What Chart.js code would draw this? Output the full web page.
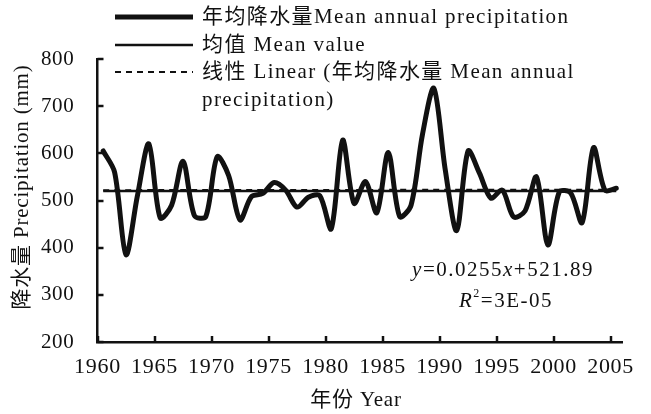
<!DOCTYPE html>
<html>
<head>
<meta charset="utf-8">
<script src="https://cdn.jsdelivr.net/npm/chart.js@4.4.1/dist/chart.umd.min.js"></script>
<style>
html,body{margin:0;padding:0;background:#fff;}
#wrap{width:651px;height:414px;position:relative;}
</style>
</head>
<body>
<div id="wrap"><canvas id="c" width="651" height="414"></canvas></div>
<script>
// ---- data ----
const years = [1960,1961,1962,1963,1964,1965,1966,1967,1968,1969,
               1970,1971,1972,1973,1974,1975,1976,1977,1978,1979,
               1980,1981,1982,1983,1984,1985,1986,1987,1988,1989,
               1990,1991,1992,1993,1994,1995,1996,1997,1998,1999,
               2000,2001,2002,2003,2004,2005];
const precipitation = [605,560,385,510,620,463,490,583,468,466,
                       593,553,459,508,515,538,522,486,507,510,
                       440,628,494,540,474,602,466,490,640,738,
                       565,436,605,558,505,522,465,478,550,406,
                       518,516,453,612,522,526];
const meanValue = 520;
const trendSlope = 0.0255;
const trendIntercept = 521.89;
const xTickYears = [1960,1965,1970,1975,1980,1985,1990,1995,2000,2005];
const yTickValues = [200,300,400,500,600,700,800];
const legendLabels = ['年均降水量Mean annual precipitation','均值 Mean value','线性 Linear (年均降水量 Mean annual','precipitation)'];
const xTitle = '年份 Year';
const yTitle = '降水量 Precipitation (mm)';

const FONT = "'Liberation Serif','Noto Sans CJK SC',serif";
const INK = '#111';

// points sit at the centre of each year's slot (Excel category style)
const mainPts = years.map((yr, i) => ({x: yr + 0.5, y: precipitation[i]}));
const firstX = years[0] + 0.5, lastX = years[years.length - 1] + 0.5;
const meanPts = [{x: firstX, y: meanValue}, {x: lastX, y: meanValue}];
const trendPts = [{x: firstX, y: trendSlope * 1 + trendIntercept},
                  {x: lastX, y: trendSlope * years.length + trendIntercept}];

const DASH = [6, 5];

const overlay = {
  id: 'overlay',
  beforeDraw(chart) {
    chart.ctx.letterSpacing = '0.7px';
  },
  afterDraw(chart) {
    const {ctx, scales: {x, y}} = chart;
    ctx.save();
    // inward tick marks
    ctx.strokeStyle = INK; ctx.lineWidth = 2.5; ctx.setLineDash([]);
    xTickYears.forEach(v => {
      const px = Math.round(x.getPixelForValue(v));
      ctx.beginPath(); ctx.moveTo(px, y.bottom); ctx.lineTo(px, y.bottom - 6); ctx.stroke();
    });
    yTickValues.forEach(v => {
      const py = Math.round(y.getPixelForValue(v));
      ctx.beginPath(); ctx.moveTo(x.left, py); ctx.lineTo(x.left + 6, py); ctx.stroke();
    });

    // legend
    const lx0 = 115, lx1 = 193, tx = 202;
    const rows = [17, 45, 72, 100];
    ctx.lineCap = 'butt';
    ctx.lineWidth = 5; ctx.beginPath(); ctx.moveTo(lx0, rows[0]); ctx.lineTo(lx1, rows[0]); ctx.stroke();
    ctx.lineWidth = 2.5; ctx.beginPath(); ctx.moveTo(lx0, rows[1]); ctx.lineTo(lx1, rows[1]); ctx.stroke();
    ctx.lineWidth = 2; ctx.setLineDash(DASH); ctx.beginPath(); ctx.moveTo(lx0, rows[2]); ctx.lineTo(lx1, rows[2]); ctx.stroke();
    ctx.setLineDash([]);
    ctx.fillStyle = INK; ctx.textBaseline = 'middle'; ctx.textAlign = 'left';
    ctx.font = '21px ' + FONT;
    ctx.letterSpacing = '1.4px';
    legendLabels.forEach((t, i) => ctx.fillText(t, tx, rows[i]));

    // axis titles
    ctx.letterSpacing = '0.8px';
    ctx.textAlign = 'center';
    ctx.fillText(xTitle, 356, 400);
    ctx.save();
    ctx.translate(22, 187);
    ctx.rotate(-Math.PI / 2);
    ctx.fillText(yTitle, 0, 0);
    ctx.restore();

    // regression equation
    ctx.letterSpacing = '1.5px';
    ctx.textAlign = 'left';
    function drawRuns(runs, cx, cy) {
      let w = 0;
      runs.forEach(r => { ctx.font = r.f; w += ctx.measureText(r.t).width; });
      let px = cx - w / 2;
      runs.forEach(r => {
        ctx.font = r.f;
        ctx.fillText(r.t, px, cy + (r.dy || 0));
        px += ctx.measureText(r.t).width;
      });
    }
    const reg = '21px ' + FONT, ita = 'italic 21px ' + FONT, sup = '12px ' + FONT;
    drawRuns([{t: 'y', f: ita}, {t: '=0.0255', f: reg}, {t: 'x', f: ita}, {t: '+521.89', f: reg}], 503, 270);
    drawRuns([{t: 'R', f: ita}, {t: '2', f: sup, dy: -7}, {t: '=3E-05', f: reg}], 506, 301);
    ctx.restore();
  }
};

new Chart(document.getElementById('c'), {
  type: 'line',
  data: {
    datasets: [
      {label: legendLabels[0], data: mainPts, borderColor: INK, borderWidth: 5, pointRadius: 0,
       tension: 0.3, borderJoinStyle: 'round', borderCapStyle: 'round', fill: false},
      {label: legendLabels[1], data: meanPts, borderColor: INK, borderWidth: 2.5, pointRadius: 0, fill: false},
      {label: legendLabels[2], data: trendPts, borderColor: INK, borderWidth: 2, borderDash: DASH, pointRadius: 0, fill: false}
    ]
  },
  options: {
    responsive: false, animation: false, devicePixelRatio: 1,
    layout: {padding: {left: 0, top: 59, right: 29, bottom: 0}},
    plugins: {legend: {display: false}, tooltip: {enabled: false}},
    scales: {
      x: {
        type: 'linear', min: 1960, max: 2006,
        afterBuildTicks: s => { s.ticks = xTickYears.map(v => ({value: v})); },
        afterFit: s => { s.height = 72; },
        ticks: {callback: v => String(v), color: INK, font: {family: FONT, size: 22}, padding: 12, maxRotation: 0, autoSkip: false},
        grid: {display: false, drawTicks: false},
        border: {display: true, color: INK, width: 2.5},
        title: {display: false}
      },
      y: {
        type: 'linear', min: 200, max: 800,
        afterBuildTicks: s => { s.ticks = yTickValues.map(v => ({value: v})); },
        afterFit: s => { s.width = 97.5; },
        ticks: {color: INK, font: {family: FONT, size: 21}, padding: 23},
        grid: {display: false, drawTicks: false},
        border: {display: true, color: INK, width: 2.5},
        title: {display: false}
      }
    }
  },
  plugins: [overlay]
});
</script>
</body>
</html>
